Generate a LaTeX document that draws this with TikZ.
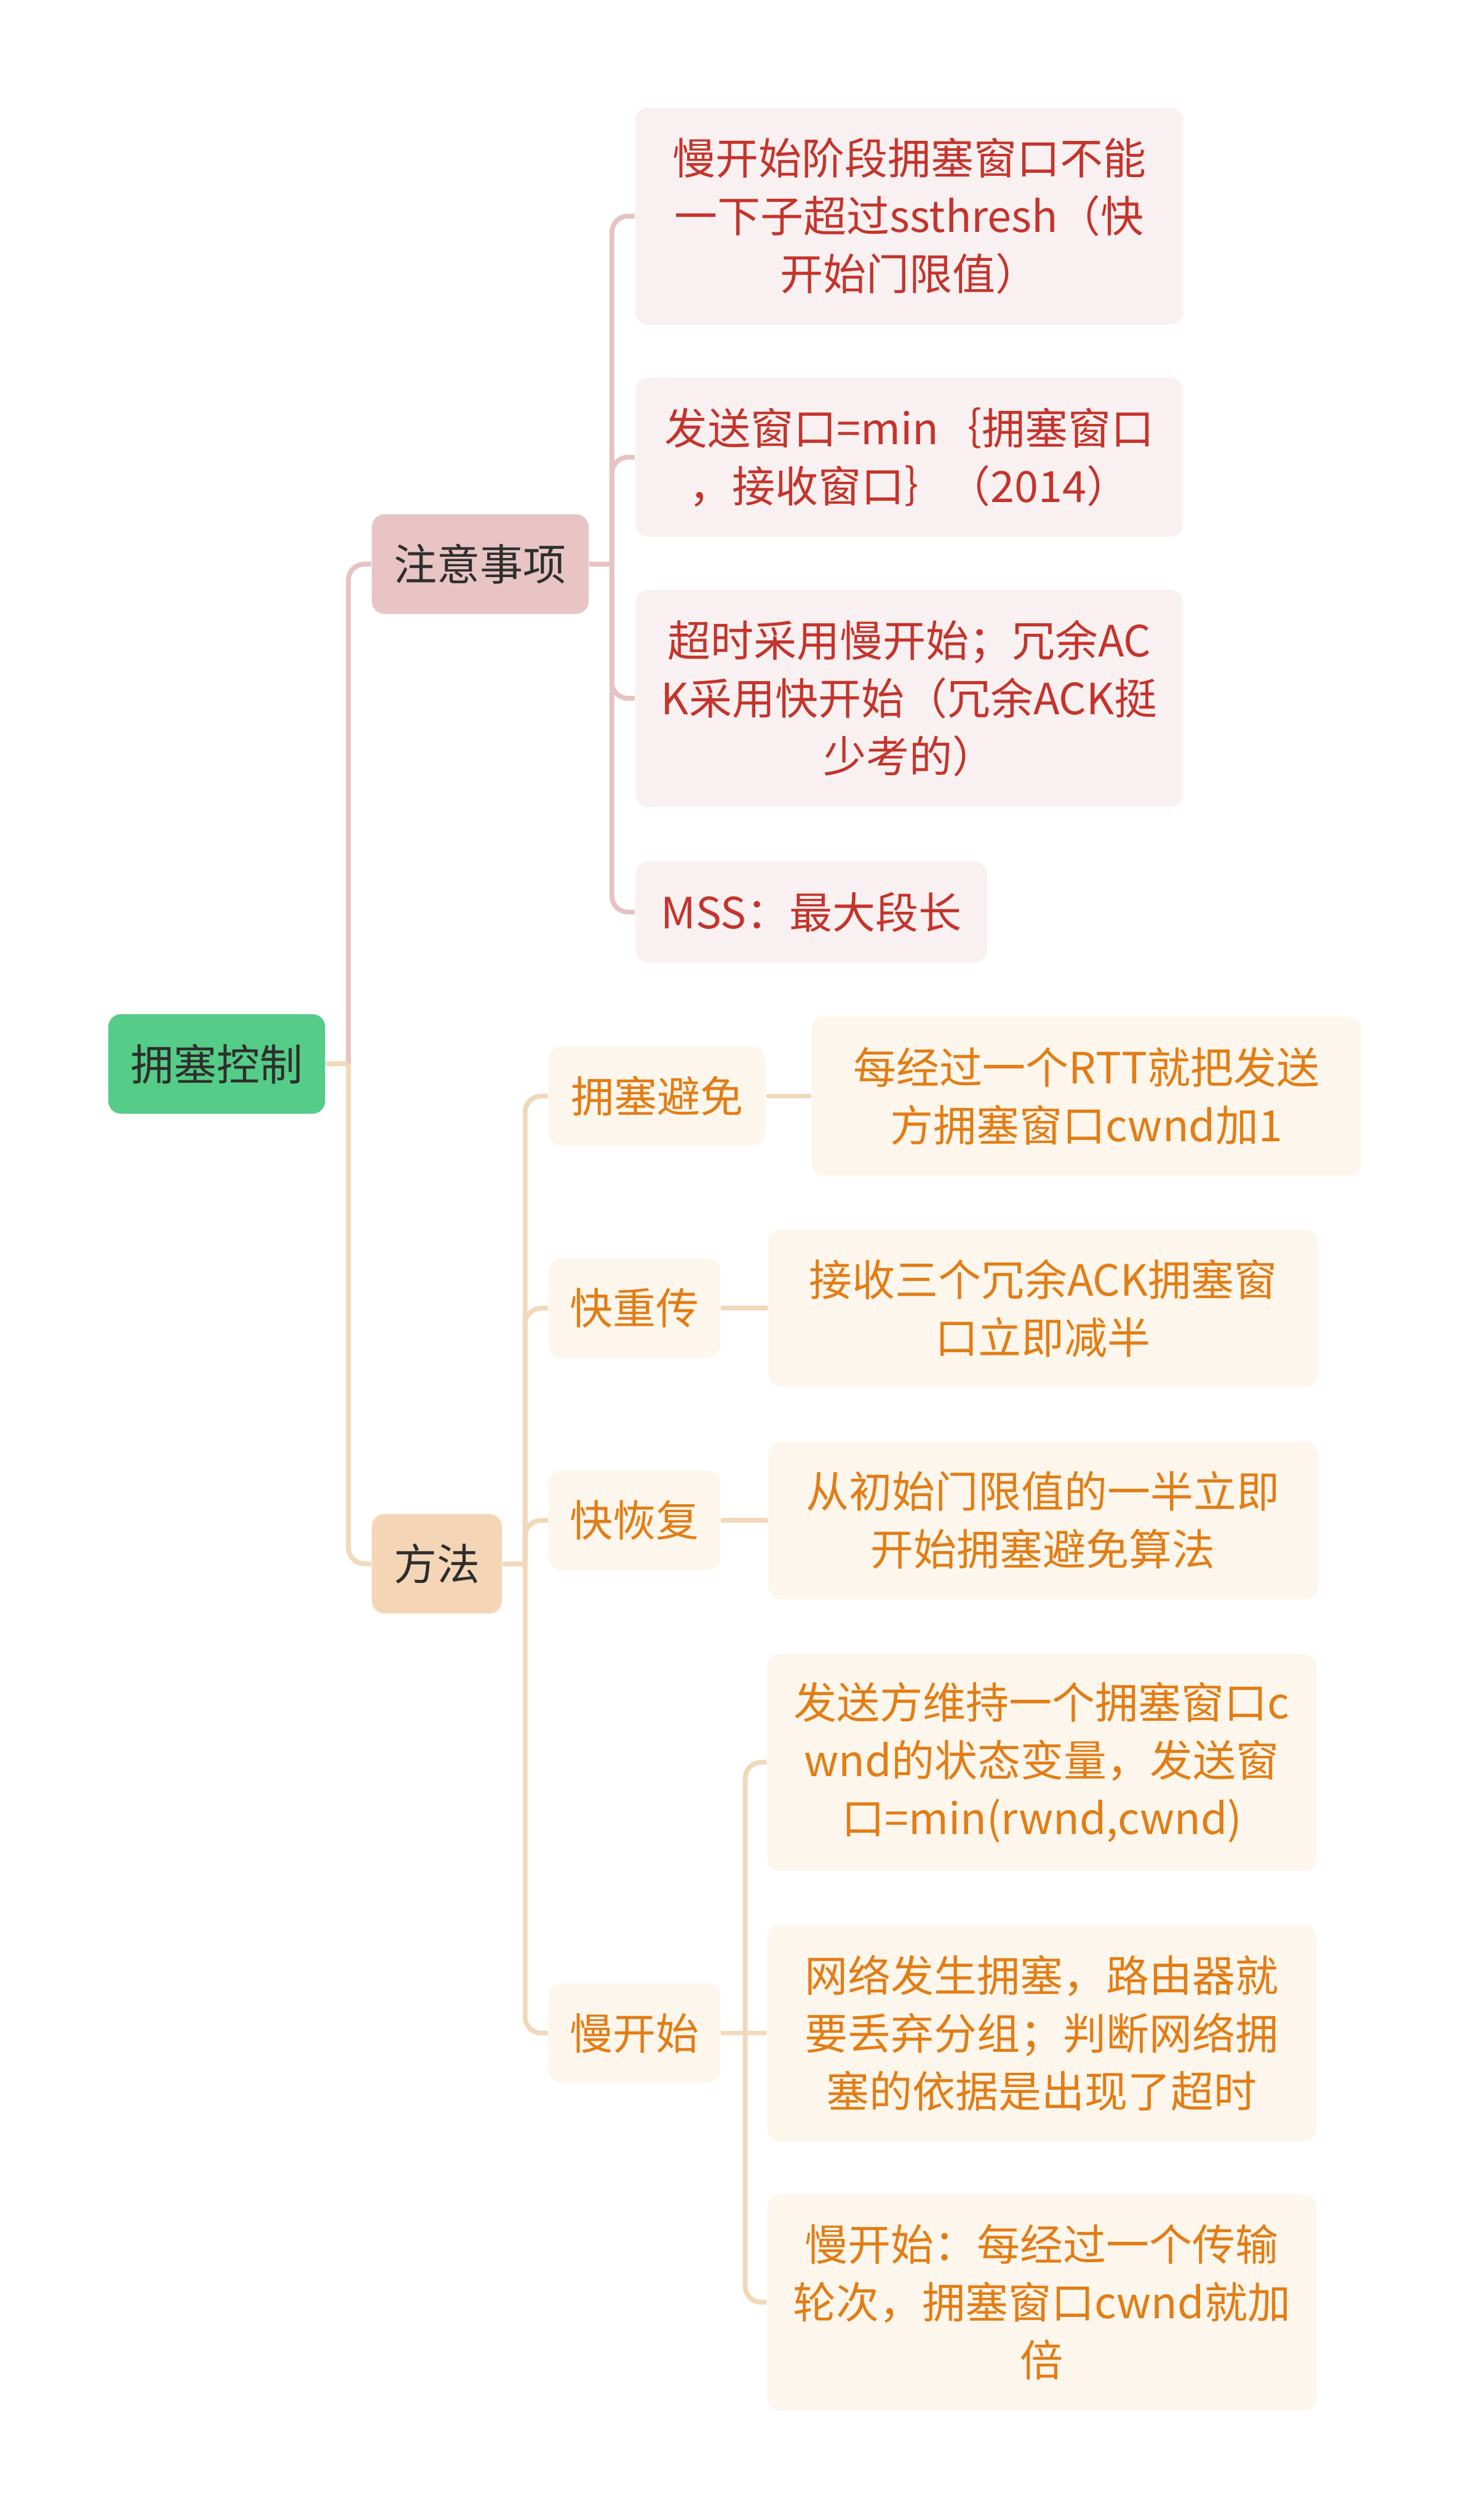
\documentclass[tikz,border=0pt]{standalone}
\usepackage{fontspec}
\setmainfont{Noto Sans CJK SC}
\usepackage{tikz}
\usetikzlibrary{positioning}
\usepackage{xcolor}
\definecolor{rootgreen}{HTML}{55CC87}
\definecolor{inkdark}{HTML}{2E2E2E}
\definecolor{pinktopic}{HTML}{E8C4C4}
\definecolor{pinkleaf}{HTML}{F9F1F1}
\definecolor{redink}{HTML}{C4342C}
\definecolor{pinkline}{HTML}{E6C2C2}
\definecolor{peachtopic}{HTML}{F4D6B6}
\definecolor{peachleaf}{HTML}{FDF6EC}
\definecolor{orangeink}{HTML}{E27D15}
\definecolor{peachline}{HTML}{F1D8BA}

\begin{document}
\begin{tikzpicture}[
  x=0.5pt, y=-0.5pt,
  box/.style={rounded corners=4pt, align=center, inner sep=2pt, font=\fontsize{13.4}{18}\selectfont, anchor=west, minimum height=31pt},
  rootbox/.style={box, fill=rootgreen, text=inkdark, minimum width=67.5pt},
  redtopic/.style={box, fill=pinktopic, text=inkdark},
  redleaf/.style={box, fill=pinkleaf, text=redink, minimum width=170.5pt},
  methodtopic/.style={box, fill=peachtopic, text=inkdark},
  orangetopic/.style={box, fill=peachleaf, text=orangeink},
  orangeleaf/.style={box, fill=peachleaf, text=orangeink, minimum width=171pt},
  redline/.style={draw=pinkline, line width=1.5pt, rounded corners=5pt},
  orangeline/.style={draw=peachline, line width=1.5pt, rounded corners=5pt}
]
\path[use as bounding box, fill=white] (0,0) rectangle (913,1568);

\node[rootbox] (congestion) at (67,662) {拥塞控制};
\node[redtopic, minimum width=67.5pt] (notes) at (231,351) {注意事项};
\node[methodtopic, minimum width=40.5pt] (methods) at (231,973) {方法};

\node[redleaf, minimum height=67.5pt] (note1) at (395,134.5) {慢开始阶段拥塞窗口不能\\一下子超过ssthresh（快\\开始门限值）};
\node[redleaf, minimum height=49.5pt] (note2) at (395,284.5) {发送窗口=min｛拥塞窗口\\，接收窗口｝（2014）};
\node[redleaf, minimum height=67.5pt] (note3) at (395,434.5) {超时采用慢开始；冗余AC\\K采用快开始（冗余ACK挺\\少考的）};
\node[redleaf, minimum width=109.5pt, minimum height=31.5pt] (note4) at (395,567.5) {MSS：最大段长};

\node[orangetopic, minimum width=67.5pt] (avoid) at (341,682) {拥塞避免};
\node[orangeleaf, minimum height=49.5pt, right=14pt of avoid] (avoidtip) {每经过一个RTT就把发送\\方拥塞窗口cwnd加1};
\node[orangetopic, minimum width=53.5pt] (fastretx) at (341,814) {快重传};
\node[orangeleaf, minimum height=49pt, right=14.5pt of fastretx] (fastretxtip) {接收三个冗余ACK拥塞窗\\口立即减半};
\node[orangetopic, minimum width=53.5pt] (fastrec) at (341,946) {快恢复};
\node[orangeleaf, minimum height=49pt, right=14.5pt of fastrec] (fastrectip) {从初始门限值的一半立即\\开始拥塞避免算法};
\node[orangetopic, minimum width=53.5pt] (slowstart) at (341,1265) {慢开始};
\node[orangeleaf, minimum height=67.5pt] (ssa) at (477,1096.5) {发送方维持一个拥塞窗口c\\wnd的状态变量，发送窗\\口=min(rwnd,cwnd)};
\node[orangeleaf, minimum height=67.5pt] (ssb) at (477,1265) {网络发生拥塞，路由器就\\要丢弃分组；判断网络拥\\塞的依据是出现了超时};
\node[orangeleaf, minimum height=67.5pt] (ssc) at (477,1432.5) {慢开始：每经过一个传输\\轮次，拥塞窗口cwnd就加\\倍};

\draw[redline] (congestion.east) ++(7pt,0) coordinate (rootfork) |- (notes.west);
\draw[orangeline] (rootfork) |- (methods.west);
\draw[orangeline] (congestion.east) -- (rootfork);

\draw[redline] (notes.east) -- ++(7pt,0) coordinate (notesfork);
\draw[redline] (notesfork) |- (note1.west);
\draw[redline] (notesfork) |- (note2.west);
\draw[redline] (notesfork) |- (note3.west);
\draw[redline] (notesfork) |- (note4.west);

\draw[orangeline] (methods.east) -- ++(7pt,0) coordinate (methodsfork);
\draw[orangeline] (methodsfork) |- (avoid.west);
\draw[orangeline] (methodsfork) |- (fastretx.west);
\draw[orangeline] (methodsfork) |- (fastrec.west);
\draw[orangeline] (methodsfork) |- (slowstart.west);

\draw[orangeline] (avoid) -- (avoidtip);
\draw[orangeline] (fastretx) -- (fastretxtip);
\draw[orangeline] (fastrec) -- (fastrectip);

\draw[orangeline] (slowstart) -- (ssb);
\draw[orangeline] (slowstart.east) ++(7.5pt,0) coordinate (slowfork) |- (ssa.west);
\draw[orangeline] (slowfork) |- (ssc.west);
\end{tikzpicture}
\end{document}
